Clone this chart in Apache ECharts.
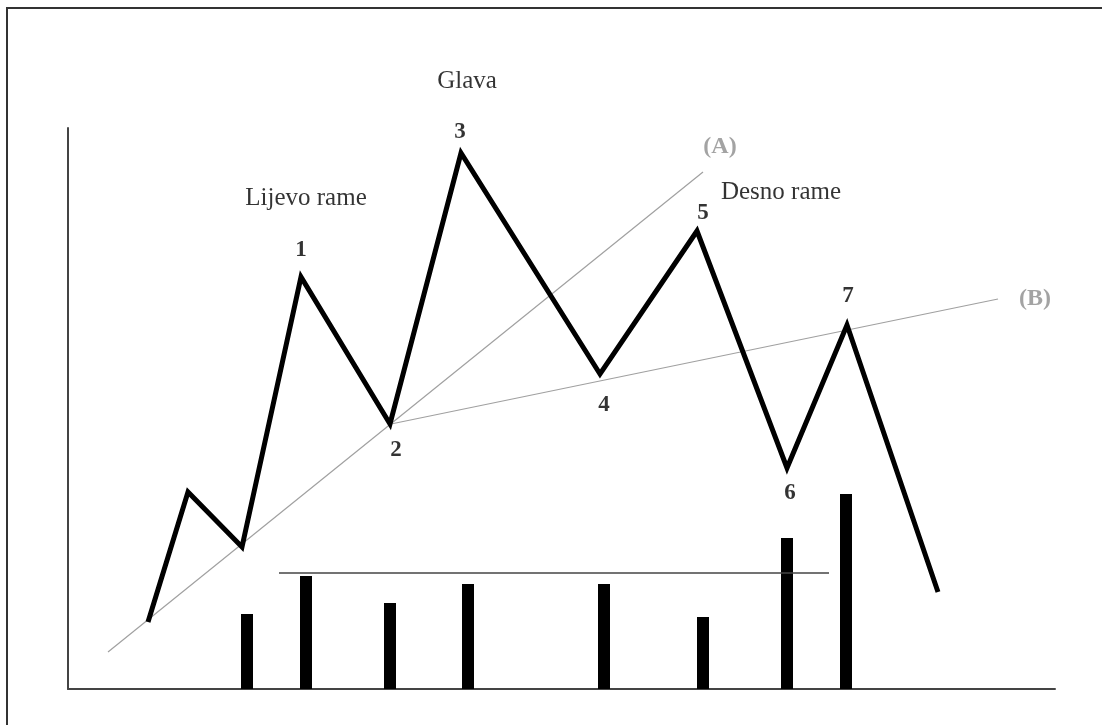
<!DOCTYPE html>
<html>
<head>
<meta charset="utf-8">
<script src="https://cdn.jsdelivr.net/npm/echarts@6/dist/echarts.min.js"></script>
<style>
html,body{margin:0;padding:0;background:#fff;}
#chart{width:1102px;height:725px;}
</style>
</head>
<body>
<div id="chart"></div>
<script>
// Price path (zig-zag), in chart units
const priceX = [80, 120, 174, 233, 322, 393, 532, 629, 719, 779, 870];
const priceY = [67, 197, 142, 412, 265, 536, 315, 458, 221, 364, 97];

// Volume bars
const volX = [179, 238, 322, 400, 536, 635, 719, 778];
const volY = [75, 113, 86, 105, 105, 72, 151, 195];

// Volume reference level
const volLevelX = [211, 761];
const volLevelY = [116, 116];

// Trend lines (A) and (B)
const lineAX = [40, 635];
const lineAY = [37, 517];
const lineBX = [323, 930];
const lineBY = [265, 390];

// Annotations
const wordText = ['Glava', 'Lijevo rame', 'Desno rame'];
const wordX = [399, 238, 713];
const wordY = [608, 491, 497];

const numText = ['1', '2', '3', '4', '5', '6', '7'];
const numX = [233, 328, 392, 536, 635, 722, 780];
const numY = [439, 239, 557, 284, 476, 196, 393];

const tagText = ['(A)', '(B)'];
const tagX = [652, 967];
const tagY = [542, 390];

const zip = (xs, ys) => xs.map((x, i) => [x, ys[i]]);
const zipNamed = (names, xs, ys) => names.map((n, i) => ({ name: n, value: [xs[i], ys[i]] }));

const chart = echarts.init(document.getElementById('chart'));

const labelSeries = (data, font) => ({
  type: 'scatter',
  data: data,
  symbolSize: 1,
  clip: false,
  itemStyle: { color: 'rgba(0,0,0,0)' },
  silent: true,
  z: 10,
  label: Object.assign({
    show: true,
    position: 'inside',
    formatter: p => p.name,
    textBorderWidth: 0,
    fontFamily: '"Liberation Serif", "Times New Roman", serif'
  }, font)
});

chart.setOption({
  animation: false,
  backgroundColor: '#ffffff',
  graphic: [{
    type: 'polyline',
    shape: { points: [[7, 725], [7, 8], [1102, 8]] },
    style: { stroke: '#333', lineWidth: 2, fill: null },
    silent: true
  }],
  grid: { left: 68, right: 47, top: 128, bottom: 36 },
  xAxis: {
    type: 'value', min: 0, max: 987,
    axisLine: { show: true, onZero: false, lineStyle: { color: '#444', width: 2 } },
    axisTick: { show: false }, axisLabel: { show: false }, splitLine: { show: false }
  },
  yAxis: {
    type: 'value', min: 0, max: 561,
    axisLine: { show: true, onZero: false, lineStyle: { color: '#444', width: 2 } },
    axisTick: { show: false }, axisLabel: { show: false }, splitLine: { show: false }
  },
  series: [
    {
      type: 'bar',
      data: zip(volX, volY),
      barWidth: 12,
      itemStyle: { color: '#000' },
      silent: true,
      z: 2
    },
    {
      type: 'line',
      data: zip(volLevelX, volLevelY),
      symbol: 'none',
      lineStyle: { color: '#444', width: 1.5 },
      silent: true,
      z: 3
    },
    {
      type: 'line',
      data: zip(lineAX, lineAY),
      symbol: 'none',
      lineStyle: { color: '#a0a0a0', width: 1.2 },
      silent: true,
      z: 3
    },
    {
      type: 'line',
      data: zip(lineBX, lineBY),
      symbol: 'none',
      lineStyle: { color: '#a0a0a0', width: 1.2 },
      silent: true,
      z: 3
    },
    {
      type: 'line',
      data: zip(priceX, priceY),
      symbol: 'none',
      lineStyle: { color: '#000', width: 5, join: 'miter', miterLimit: 3 },
      silent: true,
      z: 4
    },
    labelSeries(zipNamed(wordText, wordX, wordY), { fontSize: 25, color: '#000' }),
    labelSeries(zipNamed(numText, numX, numY), { fontSize: 23, fontWeight: 'bold', color: '#000' }),
    labelSeries(zipNamed(tagText, tagX, tagY), { fontSize: 24, fontWeight: 'bold', color: '#8c8c8c' })
  ]
});
</script>
</body>
</html>
